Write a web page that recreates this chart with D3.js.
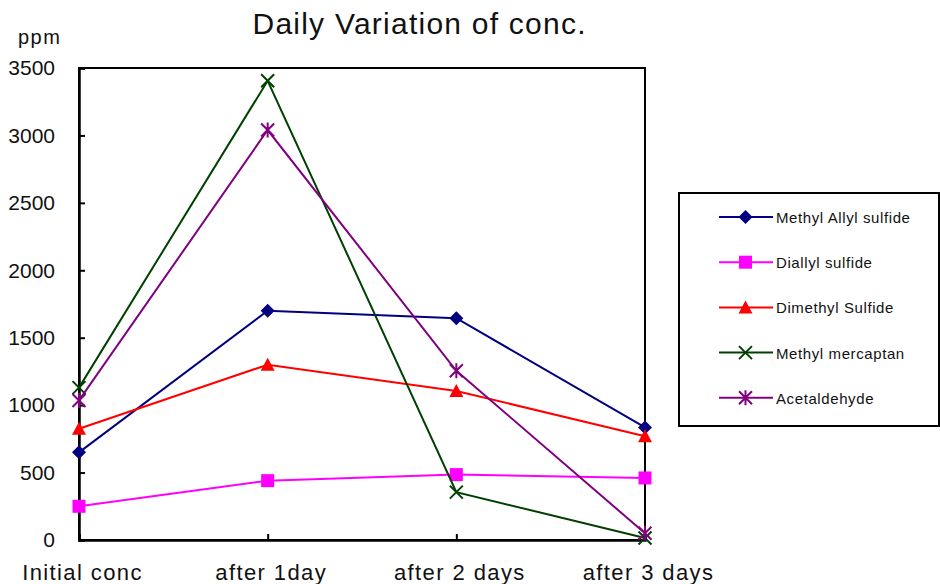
<!DOCTYPE html>
<html>
<head>
<meta charset="utf-8">
<script src="https://cdn.jsdelivr.net/npm/d3@7"></script>
<style>
  html, body { margin: 0; padding: 0; background: #fff; }
  svg { display: block; font-family: "Liberation Sans", Arial, sans-serif; }
</style>
</head>
<body>
<svg id="chart" width="940" height="584"></svg>
<script>
// Sampling times along the x axis
const categories = ["Initial conc", "after 1day", "after 2 days", "after 3 days"];

// Concentrations (ppm) per compound
const methylAllylSulfide = [650, 1700, 1645, 835];
const diallylSulfide     = [250, 440, 485, 460];
const dimethylSulfide    = [825, 1300, 1105, 770];
const methylMercaptan    = [1130, 3405, 355, 15];
const acetaldehyde       = [1035, 3040, 1255, 50];

const yTicks = [0, 500, 1000, 1500, 2000, 2500, 3000, 3500];

const series = [
  { name: "Methyl Allyl sulfide", values: methylAllylSulfide, color: "#000080", marker: "diamond" },
  { name: "Diallyl sulfide",      values: diallylSulfide,     color: "#ff00ff", marker: "square" },
  { name: "Dimethyl Sulfide",     values: dimethylSulfide,    color: "#ff0000", marker: "triangle" },
  { name: "Methyl mercaptan",     values: methylMercaptan,    color: "#004000", marker: "cross" },
  { name: "Acetaldehyde",         values: acetaldehyde,       color: "#800080", marker: "asterisk" }
];

const svg = d3.select("#chart");
const plot = { left: 79, top: 68, right: 645, bottom: 540 };

const x = d3.scalePoint().domain(categories).range([plot.left, plot.right]).padding(0);
const y = d3.scaleLinear().domain([0, 3500]).range([plot.bottom, plot.top]);

// Title and unit
svg.append("text")
  .attr("x", 419).attr("y", 34)
  .attr("text-anchor", "middle")
  .attr("font-size", 30)
  .attr("textLength", 333).attr("lengthAdjust", "spacing")
  .attr("fill", "#111")
  .text("Daily Variation of conc.");

svg.append("text")
  .attr("x", 18).attr("y", 44)
  .attr("font-size", 20)
  .attr("letter-spacing", 1.5)
  .attr("fill", "#111")
  .text("ppm");

// Plot frame
svg.append("rect")
  .attr("x", plot.left).attr("y", plot.top)
  .attr("width", plot.right - plot.left).attr("height", plot.bottom - plot.top)
  .attr("fill", "none").attr("stroke", "#000").attr("stroke-width", 2);

// Y axis: ticks point inward
const yAxis = svg.append("g")
  .attr("transform", `translate(${plot.left},0)`)
  .call(d3.axisLeft(y).tickValues(yTicks).tickSize(-6).tickPadding(30).tickFormat(d3.format("d")));
yAxis.select(".domain").attr("stroke", "#000").attr("stroke-width", 2.5);
yAxis.selectAll(".tick line").attr("stroke", "#000").attr("stroke-width", 2);
yAxis.selectAll(".tick text")
  .attr("x", -24)
  .attr("font-size", 21)
  .attr("fill", "#111")
  .attr("font-family", "Liberation Sans, Arial, sans-serif");

// X axis: ticks point inward
const xAxis = svg.append("g")
  .attr("transform", `translate(0,${plot.bottom})`)
  .call(d3.axisBottom(x).tickSize(-6).tickPadding(0));
xAxis.select(".domain").attr("stroke", "#000").attr("stroke-width", 2.5);
xAxis.selectAll(".tick line").attr("stroke", "#000").attr("stroke-width", 2);
xAxis.selectAll(".tick text")
  .attr("y", 40).attr("dy", 0)
  .attr("font-size", 22)
  .attr("letter-spacing", 1.4)
  .attr("fill", "#111")
  .attr("font-family", "Liberation Sans, Arial, sans-serif")
  .attr("dx", 3);

// Marker shapes
function drawMarker(g, type, color, cx, cy) {
  const s = 6.5;
  if (type === "diamond") {
    g.append("path").attr("d", `M${cx},${cy - 7}L${cx + 7},${cy}L${cx},${cy + 7}L${cx - 7},${cy}Z`)
      .attr("fill", color);
  } else if (type === "square") {
    g.append("rect").attr("x", cx - s).attr("y", cy - s).attr("width", 2 * s).attr("height", 2 * s)
      .attr("fill", color);
  } else if (type === "triangle") {
    g.append("path").attr("d", `M${cx},${cy - 7}L${cx + 7},${cy + 6}L${cx - 7},${cy + 6}Z`)
      .attr("fill", color);
  } else if (type === "cross") {
    g.append("path").attr("d", `M${cx - s},${cy - s}L${cx + s},${cy + s}M${cx + s},${cy - s}L${cx - s},${cy + s}`)
      .attr("stroke", color).attr("stroke-width", 2).attr("fill", "none");
  } else if (type === "asterisk") {
    g.append("path").attr("d", `M${cx - s},${cy - s}L${cx + s},${cy + s}M${cx + s},${cy - s}L${cx - s},${cy + s}M${cx},${cy - s - 1}L${cx},${cy + s + 1}`)
      .attr("stroke", color).attr("stroke-width", 2).attr("fill", "none");
  }
}

// Series lines and markers
const line = d3.line().x((d, i) => x(categories[i])).y(d => y(d));
series.forEach(s => {
  const g = svg.append("g");
  g.append("path")
    .attr("d", line(s.values))
    .attr("fill", "none")
    .attr("stroke", s.color)
    .attr("stroke-width", 2);
  s.values.forEach((v, i) => drawMarker(g, s.marker, s.color, x(categories[i]), y(v)));
});

// Legend
const legend = svg.append("g");
legend.append("rect")
  .attr("x", 679).attr("y", 193).attr("width", 260).attr("height", 233)
  .attr("fill", "#fff").attr("stroke", "#000").attr("stroke-width", 2);
series.forEach((s, i) => {
  const cy = 217 + i * 45.2;
  legend.append("line")
    .attr("x1", 719).attr("x2", 773).attr("y1", cy).attr("y2", cy)
    .attr("stroke", s.color).attr("stroke-width", 2);
  drawMarker(legend, s.marker, s.color, 745.5, cy);
  legend.append("text")
    .attr("x", 776).attr("y", cy + 6)
    .attr("font-size", 15)
    .attr("letter-spacing", 0.6)
    .attr("fill", "#111")
    .text(s.name);
});
</script>
</body>
</html>
